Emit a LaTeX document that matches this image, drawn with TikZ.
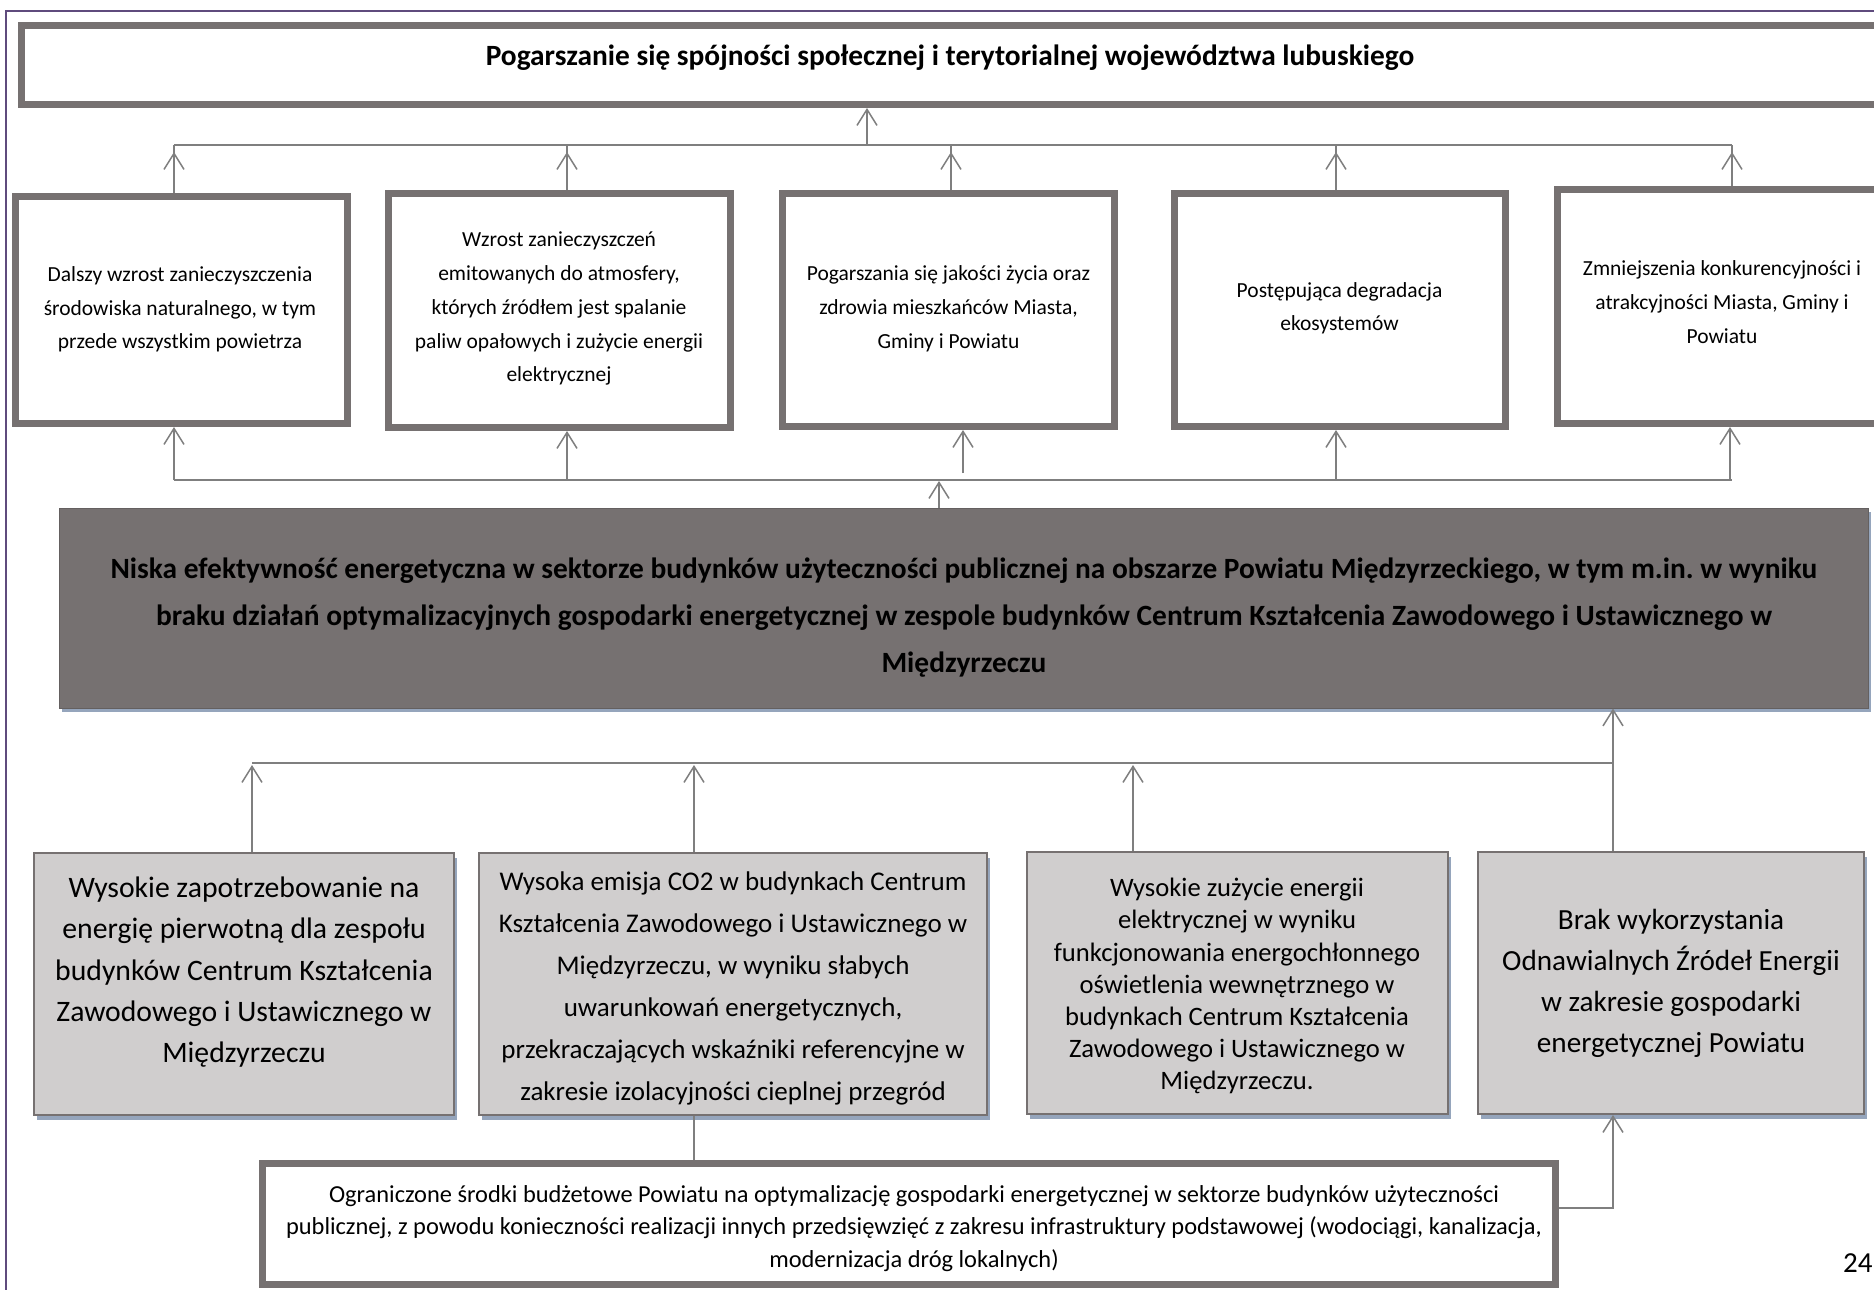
\documentclass[tikz,border=0pt]{standalone}
\usepackage{fontspec}
\setmainfont{Carlito}
\frenchspacing
\usetikzlibrary{arrows.meta}
\definecolor{bord}{HTML}{767171}
\definecolor{lnc}{HTML}{7F7F7F}
\definecolor{lightf}{HTML}{D0CECE}
\definecolor{shad}{HTML}{95A5BC}
\definecolor{framec}{HTML}{5F4B7D}
\begin{document}
\begin{tikzpicture}[x=1pt,y=-1pt,
  thickbox/.style={draw=bord, line width=7pt, fill=white, inner sep=0pt},
  greybox/.style={draw=bord, line width=2pt, fill=lightf, inner sep=0pt,
    preaction={fill=shad, transform canvas={xshift=3pt,yshift=-5pt}}},
  darkbox/.style={draw=bord!85!black, line width=1pt, fill=bord, inner sep=0pt,
    preaction={fill=shad, transform canvas={xshift=3pt,yshift=-4pt}}},
  txt/.style={align=center, inner sep=0pt, text=black,
    execute at begin node=\strut, execute at end node=\strut},
  conn/.style={draw=lnc, line width=1.5pt},
  arr/.style={conn, -{Straight Barb[length=16pt,width=20pt]}},
  ftitle/.style={font=\fontsize{29.4}{32}\selectfont\bfseries},
  frow/.style={font=\fontsize{21.5}{33.7}\selectfont},
  fdark/.style={font=\fontsize{29.4}{46.7}\selectfont\bfseries},
]
\useasboundingbox (0,0) rectangle (1874,1290);
\fill[white] (0,0) rectangle (1874,1290);

% page frame
\draw[framec, line width=2pt] (6,1300) -- (6,11) -- (1890,11);

% top box
\node[thickbox, minimum width=1875pt, minimum height=79pt] (top) at (959,65) {};
\node[txt, ftitle] (toptxt) at (950,59.2) {Pogarszanie się spójności społecznej i terytorialnej województwa lubuskiego};

% second row
\node[thickbox, minimum width=332pt, minimum height=227pt] (b1) at (181.5,310) {};
\node[thickbox, minimum width=342pt, minimum height=234pt] (b2) at (559.5,310.5) {};
\node[thickbox, minimum width=332pt, minimum height=233pt] (b3) at (948.5,310) {};
\node[thickbox, minimum width=331pt, minimum height=233pt] (b4) at (1340,310) {};
\node[thickbox, minimum width=329pt, minimum height=234pt] (b5) at (1722,306.5) {};

\node[txt, frow] (b1t) at (180,312.7) {Dalszy wzrost zanieczyszczenia\\środowiska naturalnego, w tym\\przede wszystkim powietrza};
\node[txt, frow] (b2t) at (559,312) {Wzrost zanieczyszczeń\\emitowanych do atmosfery,\\których źródłem jest spalanie\\paliw opałowych i zużycie energii\\elektrycznej};
\node[txt, frow] (b3t) at (948.5,312) {Pogarszania się jakości życia oraz\\zdrowia mieszkańców Miasta,\\Gminy i Powiatu};
\node[txt, frow] (b4t) at (1339.5,311.7) {Postępująca degradacja\\ekosystemów};
\node[txt, frow] (b5t) at (1722,307) {Zmniejszenia konkurencyjności i\\atrakcyjności Miasta, Gminy i\\Powiatu};

% dark central box
\node[darkbox, minimum width=1809pt, minimum height=200pt] (dark) at (963.5,608) {};
\node[txt, fdark] (darkt) at (964,622) {Niska efektywność energetyczna w sektorze budynków użyteczności publicznej na obszarze Powiatu Międzyrzeckiego, w tym m.in. w wyniku\\braku działań optymalizacyjnych gospodarki energetycznej w zespole budynków Centrum Kształcenia Zawodowego i Ustawicznego w\\Międzyrzeczu};

% third row
\node[greybox, minimum width=420pt, minimum height=262pt] (ca) at (244,984) {};
\node[greybox, minimum width=508pt, minimum height=262pt] (cb) at (733,984) {};
\node[greybox, minimum width=421pt, minimum height=262pt] (cc) at (1237.5,983) {};
\node[greybox, minimum width=386pt, minimum height=262pt] (cd) at (1671,983) {};

\node[txt, font=\fontsize{29.7}{41.3}\selectfont] (cat) at (244,976) {Wysokie zapotrzebowanie na\\energię pierwotną dla zespołu\\budynków Centrum Kształcenia\\Zawodowego i Ustawicznego w\\Międzyrzeczu};
\node[txt, font=\fontsize{27}{42}\selectfont] (cbt) at (733,992.5) {Wysoka emisja CO2 w budynkach Centrum\\Kształcenia Zawodowego i Ustawicznego w\\Międzyrzeczu, w wyniku słabych\\uwarunkowań energetycznych,\\przekraczających wskaźniki referencyjne w\\zakresie izolacyjności cieplnej przegród};
\node[txt, font=\fontsize{26.6}{32.2}\selectfont] (cct) at (1237,988.8) {Wysokie zużycie energii\\elektrycznej w wyniku\\funkcjonowania energochłonnego\\oświetlenia wewnętrznego w\\budynkach Centrum Kształcenia\\Zawodowego i Ustawicznego w\\Międzyrzeczu.};
\node[txt, font=\fontsize{29.2}{41}\selectfont] (cdt) at (1671,987) {Brak wykorzystania\\Odnawialnych Źródeł Energii\\w zakresie gospodarki\\energetycznej Powiatu};

% bottom box
\node[thickbox, minimum width=1293pt, minimum height=121pt] (bot) at (909,1224) {};
\node[txt, font=\fontsize{24.4}{32.5}\selectfont] (bott) at (914,1231) {Ograniczone środki budżetowe Powiatu na optymalizację gospodarki energetycznej w sektorze budynków użyteczności\\publicznej, z powodu konieczności realizacji innych przedsięwzięć z zakresu infrastruktury podstawowej (wodociągi, kanalizacja,\\modernizacja dróg lokalnych)};

% page number
\node[inner sep=0pt, anchor=base west, font=\fontsize{29}{34}\selectfont] (pnum) at (1843,1272) {24};

% ---- connectors: row 2 -> top
\coordinate (jt) at (867,145);
\coordinate (t1) at (174,145);
\coordinate (t2) at (567,145);
\coordinate (t3) at (951,145);
\coordinate (t4) at (1336,145);
\coordinate (t5) at (1732,145);
\draw[conn] (t1) -- (t5);
\draw[arr] (jt) -- (jt |- top.south);
\foreach \i in {1,...,5}{
  \draw[conn] (t\i |- b\i.north) -- (t\i);
  \draw[arr] (t\i |- b\i.north) -- ([yshift=-7pt]t\i);
}

% ---- connectors: dark -> row 2
\coordinate (m1) at (174,480);
\coordinate (m2) at (567,480);
\coordinate (m3) at (963,473);
\coordinate (m4) at (1336,480);
\coordinate (m5) at (1730,480);
\coordinate (mc) at (939,481);
\draw[conn] (m1) -- (1732,480);
\foreach \i in {1,...,5}{
  \draw[arr] (m\i) -- (m\i |- b\i.south);
}
\draw[arr] (mc |- dark.north) -- (mc);

% ---- connectors: row 3 -> dark
\coordinate (l1) at (252,763);
\coordinate (l2) at (694,763);
\coordinate (l3) at (1133,763);
\coordinate (l4) at (1613,763);
\draw[conn] (l1) -- (l4);
\draw[arr] (l1 |- ca.north) -- ([yshift=-2pt]l1);
\draw[arr] (l2 |- cb.north) -- ([yshift=-2pt]l2);
\draw[arr] (l3 |- cc.north) -- ([yshift=-2pt]l3);
\draw[arr] (l4 |- cd.north) -- (l4 |- dark.south);

% ---- connectors: bottom box
\coordinate (k) at (1613,1208);
\draw[conn] (l2 |- cb.south) -- (l2 |- bot.north);
\draw[arr] (bot.east |- k) -- (k) -- (k |- cd.south);
\end{tikzpicture}
\end{document}
